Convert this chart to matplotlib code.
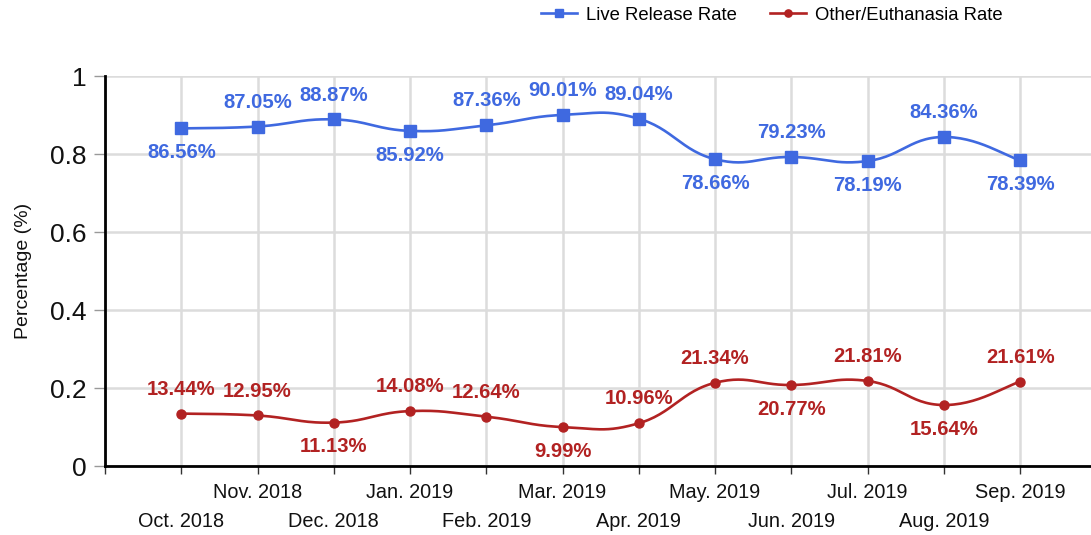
import numpy as np
import matplotlib
matplotlib.use("Agg")
import matplotlib.pyplot as plt

plt.rcParams['font.family'] = ['Liberation Sans', 'DejaVu Sans']

months = ['Oct. 2018', 'Nov. 2018', 'Dec. 2018', 'Jan. 2019', 'Feb. 2019', 'Mar. 2019',
          'Apr. 2019', 'May. 2019', 'Jun. 2019', 'Jul. 2019', 'Aug. 2019', 'Sep. 2019']
live_release = [0.8656, 0.8705, 0.8887, 0.8592, 0.8736, 0.9001,
                0.8904, 0.7866, 0.7923, 0.7819, 0.8436, 0.7839]
euthanasia = [0.1344, 0.1295, 0.1113, 0.1408, 0.1264, 0.0999,
              0.1096, 0.2134, 0.2077, 0.2181, 0.1564, 0.2161]

# where the value labels sit: +1 above the point, -1 below
live_side = [-1, 1, 1, -1, 1, 1, 1, -1, 1, -1, 1, -1]
euth_side = [1, 1, -1, 1, 1, -1, 1, 1, -1, 1, -1, 1]

BLUE = '#3f69e0'
RED = '#b22222'


def smooth(x, y, k=0.22, n=30):
    # cubic bezier through every point, catmull-rom style tangents
    p = np.column_stack([x, y]).astype(float)
    p = np.vstack([p[0], p, p[-1]])
    out = []
    for i in range(1, len(p) - 2):
        p0, p3 = p[i], p[i + 1]
        c1 = p0 + k * (p[i + 1] - p[i - 1])
        c2 = p3 - k * (p[i + 2] - p[i])
        t = np.linspace(0, 1, n)[:, None]
        seg = (1 - t) ** 3 * p0 + 3 * (1 - t) ** 2 * t * c1 + 3 * (1 - t) * t ** 2 * c2 + t ** 3 * p3
        out.append(seg if i == 1 else seg[1:])
    seg = np.vstack(out)
    return seg[:, 0], seg[:, 1]


fig = plt.figure(figsize=(10.91, 5.35), dpi=100)
ax = fig.add_axes([105 / 1091, 69 / 535, 1 - 105 / 1091, 390 / 535])

x = np.arange(len(months))

for vals, sides, color, marker, ms, name in [
        (live_release, live_side, BLUE, 's', 8, 'Live Release Rate'),
        (euthanasia, euth_side, RED, 'o', 6.5, 'Other/Euthanasia Rate')]:
    sx, sy = smooth(x, vals)
    ax.plot(sx, sy, color=color, lw=1.9, zorder=3, clip_on=False)
    ax.plot(x, vals, ls='none', marker=marker, ms=ms, color=color, zorder=4, clip_on=False)
    ax.plot([], [], color=color, lw=1.9, marker=marker, ms=ms * 0.8, label=name)
    for xi, v, s in zip(x, vals, sides):
        ax.annotate(f'{v * 100:.2f}%', (xi, v), xytext=(0, 17.5 * s), textcoords='offset points',
                    ha='center', va='center', fontsize=14.6, fontweight='bold', color=color)

ax.set_xlim(-1, 11.93)
ax.set_ylim(0, 1)
ax.set_yticks([0, 0.2, 0.4, 0.6, 0.8, 1])
ax.set_yticklabels(['0', '0.2', '0.4', '0.6', '0.8', '1'])
ax.set_xticks(np.arange(-1, len(months)))
ax.set_xticklabels([''] + months)

ax.grid(color='#dcdcdc', lw=1.8, zorder=0)
ax.set_axisbelow(True)
for s in ['top', 'right']:
    ax.spines[s].set_visible(False)
for s in ['left', 'bottom']:
    ax.spines[s].set_color('black')
    ax.spines[s].set_linewidth(2)

ax.tick_params(axis='y', length=8, width=1, color='#999999', labelsize=19, pad=5, labelcolor='#111111')
ax.tick_params(axis='x', length=5.5, width=1, color='#333333', labelsize=14.3, labelcolor='#111111')
for j, tick in enumerate(ax.xaxis.get_major_ticks()):
    i = j - 1
    tick.set_pad(7 if i % 2 == 1 else 27.5)

ax.set_ylabel('Percentage (%)', fontsize=14, color='#111111')
ax.yaxis.set_label_coords(-73 / 986, 0.5)

fig.legend(loc='center left', bbox_to_anchor=(532 / 1091, 1 - 15 / 535), ncol=2, frameon=False,
           fontsize=13.3, borderpad=0, handlelength=1.95, handletextpad=0.5, columnspacing=1.75)

fig.savefig('out.png', dpi=100)
